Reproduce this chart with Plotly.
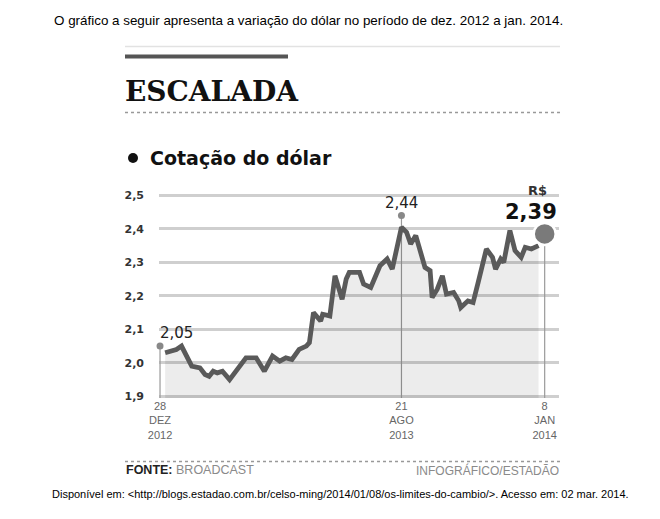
import plotly.graph_objects as go

# ---------------- data ----------------
dates = ["2013-01-02", "2013-01-08", "2013-01-13", "2013-01-18", "2013-01-25", "2013-01-28",
         "2013-02-05", "2013-02-10", "2013-02-14", "2013-02-18", "2013-02-22", "2013-02-27",
         "2013-03-06", "2013-03-11", "2013-03-17", "2013-03-22", "2013-04-01", "2013-04-09",
         "2013-04-17", "2013-04-24", "2013-04-30", "2013-05-06", "2013-05-13", "2013-05-20",
         "2013-05-23", "2013-05-27", "2013-06-03", "2013-06-05", "2013-06-12", "2013-06-17",
         "2013-06-24", "2013-06-28", "2013-07-01", "2013-07-11", "2013-07-15", "2013-07-22",
         "2013-07-31", "2013-08-07", "2013-08-12", "2013-08-21", "2013-08-26", "2013-08-30",
         "2013-09-04", "2013-09-09", "2013-09-13", "2013-09-18", "2013-09-20", "2013-09-25",
         "2013-09-30", "2013-10-04", "2013-10-11", "2013-10-16", "2013-10-18", "2013-10-25",
         "2013-10-30", "2013-11-04", "2013-11-12", "2013-11-18", "2013-11-21", "2013-11-26",
         "2013-11-29", "2013-12-05", "2013-12-10", "2013-12-16", "2013-12-20", "2013-12-26",
         "2014-01-02"]
values = [2.03, 2.035, 2.04, 2.05, 2.01, 1.99,
          1.985, 1.965, 1.96, 1.975, 1.97, 1.975,
          1.95, 1.97, 1.995, 2.015, 2.015, 1.975,
          2.02, 2.005, 2.015, 2.01, 2.04, 2.05,
          2.06, 2.15, 2.125, 2.145, 2.14, 2.26,
          2.19, 2.25, 2.27, 2.27, 2.235, 2.225,
          2.29, 2.31, 2.28, 2.405, 2.39, 2.355,
          2.38, 2.33, 2.285, 2.275, 2.195, 2.22,
          2.26, 2.205, 2.21, 2.185, 2.165, 2.185,
          2.18, 2.24, 2.34, 2.315, 2.28, 2.31,
          2.30, 2.395, 2.335, 2.315, 2.345, 2.34,
          2.35]

mark_dates = ["2012-12-28", "2013-08-21", "2014-01-08"]
mark_values = [2.05, 2.44, 2.385]
mark_labels = ["2,05", "2,44", "2,39"]

y_ticks = [1.9, 2.0, 2.1, 2.2, 2.3, 2.4, 2.5]
y_ticktext = ["1,9", "2,0", "2,1", "2,2", "2,3", "2,4", "2,5"]
x_ticks = ["2012-12-28", "2013-08-21", "2014-01-08"]
x_ticktext = ["28<br>DEZ<br>2012", "21<br>AGO<br>2013", "8<br>JAN<br>2014"]

# ---------------- layout helpers ----------------
W, H = 660, 519
L, R, T, B = 159, 101, 189, 121
PW, PH = W - L - R, H - T - B


def fx(px):
    return (px - L) / PW


def fy(py):
    return (H - B - py) / PH


fig = go.Figure()

fig.add_trace(go.Scatter(
    x=dates, y=values, mode="lines",
    line=dict(color="#5a5a5a", width=4.8),
    fill="tozeroy", fillcolor="rgba(0,0,0,0.075)",
    hoverinfo="skip", showlegend=False))

# small marker dots
fig.add_trace(go.Scatter(
    x=mark_dates[:2], y=mark_values[:2], mode="markers",
    marker=dict(color="#888888", size=7),
    cliponaxis=False, showlegend=False, hoverinfo="skip"))
# big end dot
fig.add_trace(go.Scatter(
    x=mark_dates[2:], y=mark_values[2:], mode="markers",
    marker=dict(color="#7a7a7a", size=22, line=dict(color="white", width=2.5)),
    cliponaxis=False, showlegend=False, hoverinfo="skip"))

shapes = []
# vertical guide lines from marks to axis
for d, v in zip(mark_dates, mark_values):
    shapes.append(dict(type="line", xref="x", yref="y", x0=d, x1=d,
                       y0=y_ticks[0] - 0.012, y1=v,
                       line=dict(color="#999999", width=1.2), layer="between"))
# header / footer decoration
shapes += [
    dict(type="line", xref="paper", yref="paper", x0=fx(125), x1=fx(560), y0=fy(46.5), y1=fy(46.5),
         line=dict(color="#e2e2e2", width=1.5)),
    dict(type="line", xref="paper", yref="paper", x0=fx(125), x1=fx(288), y0=fy(56.5), y1=fy(56.5),
         line=dict(color="#555555", width=4)),
    dict(type="line", xref="paper", yref="paper", x0=fx(125), x1=fx(560), y0=fy(112.5), y1=fy(112.5),
         line=dict(color="#999999", width=1.5, dash="dot")),
    dict(type="line", xref="paper", yref="paper", x0=fx(125), x1=fx(560), y0=fy(461.5), y1=fy(461.5),
         line=dict(color="#999999", width=1.5, dash="dot")),
    dict(type="circle", xref="paper", yref="paper", x0=fx(128), x1=fx(138), y0=fy(153), y1=fy(163),
         fillcolor="#111111", line=dict(width=0)),
]

annotations = [
    dict(text="O gráfico a seguir apresenta a variação do dólar no período de dez. 2012 a jan. 2014.",
         xref="paper", yref="paper", x=fx(308), y=fy(20), xanchor="center", yanchor="middle",
         showarrow=False, font=dict(family="Liberation Sans, Arial", size=13.4, color="#000000")),
    dict(text="<b>ESCALADA</b>", xref="paper", yref="paper", x=fx(123), y=fy(91), xanchor="left",
         yanchor="middle", showarrow=False,
         font=dict(family="DejaVu Serif, Liberation Serif", size=28, color="#111111")),
    dict(text="<b>Cotação do dólar</b>", xref="paper", yref="paper", x=fx(148), y=fy(158),
         xanchor="left", yanchor="middle", showarrow=False,
         font=dict(family="DejaVu Sans", size=19, color="#111111")),
    dict(text="<b>FONTE:</b> <span style='color:#8a8a8a'>BROADCAST</span>", xref="paper", yref="paper",
         x=fx(124), y=fy(470), xanchor="left", yanchor="middle", showarrow=False,
         font=dict(family="Liberation Sans Narrow, Liberation Sans", size=12.5, color="#222222")),
    dict(text="INFOGRÁFICO/ESTADÃO", xref="paper", yref="paper",
         x=fx(561), y=fy(470), xanchor="right", yanchor="middle", showarrow=False,
         font=dict(family="Liberation Sans Narrow, Liberation Sans", size=12, color="#8a8a8a")),
    dict(text="Disponível em: &lt;http://blogs.estadao.com.br/celso-ming/2014/01/08/os-limites-do-cambio/&gt;. Acesso em: 02 mar. 2014.",
         xref="paper", yref="paper", x=fx(340), y=fy(494), xanchor="center", yanchor="middle",
         showarrow=False, font=dict(family="Liberation Sans, Arial", size=11, color="#000000")),
    # value labels
    dict(text=mark_labels[0], x=mark_dates[0], y=mark_values[0], xref="x", yref="y",
         xanchor="left", yanchor="middle", xshift=-2, yshift=13, showarrow=False,
         font=dict(family="DejaVu Sans", size=15, color="#222222")),
    dict(text=mark_labels[1], x=mark_dates[1], y=mark_values[1], xref="x", yref="y",
         xanchor="center", yanchor="middle", yshift=12, showarrow=False,
         font=dict(family="DejaVu Sans", size=15, color="#222222")),
    dict(text="<b>R$</b>", x=mark_dates[2], y=mark_values[2], xref="x", yref="y",
         xanchor="center", yanchor="middle", xshift=-7, yshift=43, showarrow=False,
         font=dict(family="DejaVu Sans", size=13, color="#333333")),
    dict(text="<b>" + mark_labels[2] + "</b>", x=mark_dates[2], y=mark_values[2], xref="x", yref="y",
         xanchor="center", yanchor="middle", xshift=-14, yshift=22, showarrow=False,
         font=dict(family="DejaVu Sans", size=21, color="#111111")),
]

fig.update_layout(
    width=W, height=H,
    margin=dict(l=L, r=R, t=T, b=B),
    paper_bgcolor="white", plot_bgcolor="white",
    shapes=shapes, annotations=annotations,
    xaxis=dict(type="date", range=["2012-12-27", "2014-01-22"], showgrid=False, zeroline=False,
               showline=False, ticks="", tickmode="array", tickvals=x_ticks, ticktext=x_ticktext,
               tickangle=0,
               tickfont=dict(family="Liberation Sans Narrow, Liberation Sans", size=11, color="#666666")),
    yaxis=dict(range=[1.895, 2.519], showgrid=True, gridcolor="#cfcfcf", gridwidth=2.5,
               zeroline=False, showline=False, ticks="", tickmode="array", tickvals=y_ticks,
               ticktext=y_ticktext, ticklabelstandoff=14,
               tickfont=dict(family="DejaVu Sans", size=11, color="#333333", weight="bold")),
)

fig.write_html("out.html", config={"displayModeBar": False},
               post_script="document.body.style.margin='0';")
